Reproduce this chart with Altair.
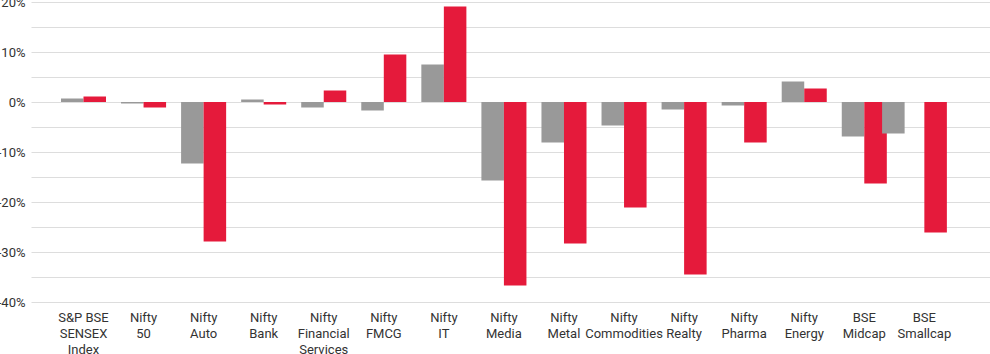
import altair as alt
import pandas as pd

categories = [
    "S&P BSE|SENSEX|Index", "Nifty|50", "Nifty|Auto", "Nifty|Bank",
    "Nifty|Financial|Services", "Nifty|FMCG", "Nifty|IT", "Nifty|Media",
    "Nifty|Metal", "Nifty|Commodities", "Nifty|Realty", "Nifty|Pharma",
    "Nifty|Energy", "BSE|Midcap", "BSE|Smallcap",
]
gray_values = [0.7, -0.3, -12.3, 0.5, -1.1, -1.7, 7.5, -15.7, -8.1, -4.7,
               -1.5, -0.7, 4.1, -6.9, -6.3]
red_values = [1.1, -1.1, -27.9, -0.5, 2.3, 9.5, 19.1, -36.7, -28.3, -21.1,
              -34.5, -8.1, 2.7, -16.3, -26.1]
series_names = ["gray", "red"]
series_colors = ["#999999", "#E51A3B"]
y_ticks = [-40, -35, -30, -25, -20, -15, -10, -5, 0, 5, 10, 15, 20]

rows = []
for c, g, r in zip(categories, gray_values, red_values):
    rows.append({"cat": c, "series": "gray", "value": g})
    rows.append({"cat": c, "series": "red", "value": r})
df = pd.DataFrame(rows)

font = "Roboto"

x_enc = alt.X(
    "cat:N", sort=categories, title=None,
    scale=alt.Scale(domain=categories, paddingInner=0.25, paddingOuter=0.6085, align=0.41),
    axis=alt.Axis(labelAngle=0, labelExpr="split(datum.label, '|')", domain=False,
                  ticks=False, labelPadding=9, labelFontSize=13, labelLineHeight=16,
                  labelFont=font, labelColor="#333333", labelBaseline="top"),
)
y_enc = alt.Y(
    "value:Q", title=None,
    scale=alt.Scale(domain=[-40, 20], nice=False, zero=False),
    axis=alt.Axis(values=y_ticks, grid=True, gridColor="#dddddd", gridWidth=1,
                  domain=False, ticks=False, labelPadding=6, labelFontSize=13,
                  labelFont=font, labelColor="#333333",
                  labelExpr="datum.value % 10 == 0 ? datum.value + '%' : ''"),
)
color_enc = alt.Color("series:N", scale=alt.Scale(domain=series_names, range=series_colors),
                      legend=None)

is_odd = "datum.cat == 'BSE|Smallcap' && datum.series == 'gray'"

main = alt.Chart(df).transform_filter("!(" + is_odd + ")").mark_bar().encode(
    x=x_enc, y=y_enc, color=color_enc,
    xOffset=alt.XOffset("series:N", scale=alt.Scale(domain=series_names, paddingInner=0, paddingOuter=0)),
)
odd = alt.Chart(df).transform_filter(is_odd).mark_bar(
    width=alt.RelativeBandSize(0.5), xOffset=-31
).encode(x=x_enc, y=y_enc, color=color_enc)

chart = alt.layer(main, odd).properties(
    width=959, height=300,
    autosize=alt.AutoSizeParams(type="none"),
    padding={"left": 31, "top": 2, "right": 0, "bottom": 52},
).configure_view(stroke=None)

chart.save("out.html", embed_options={"renderer": "svg", "actions": False})
